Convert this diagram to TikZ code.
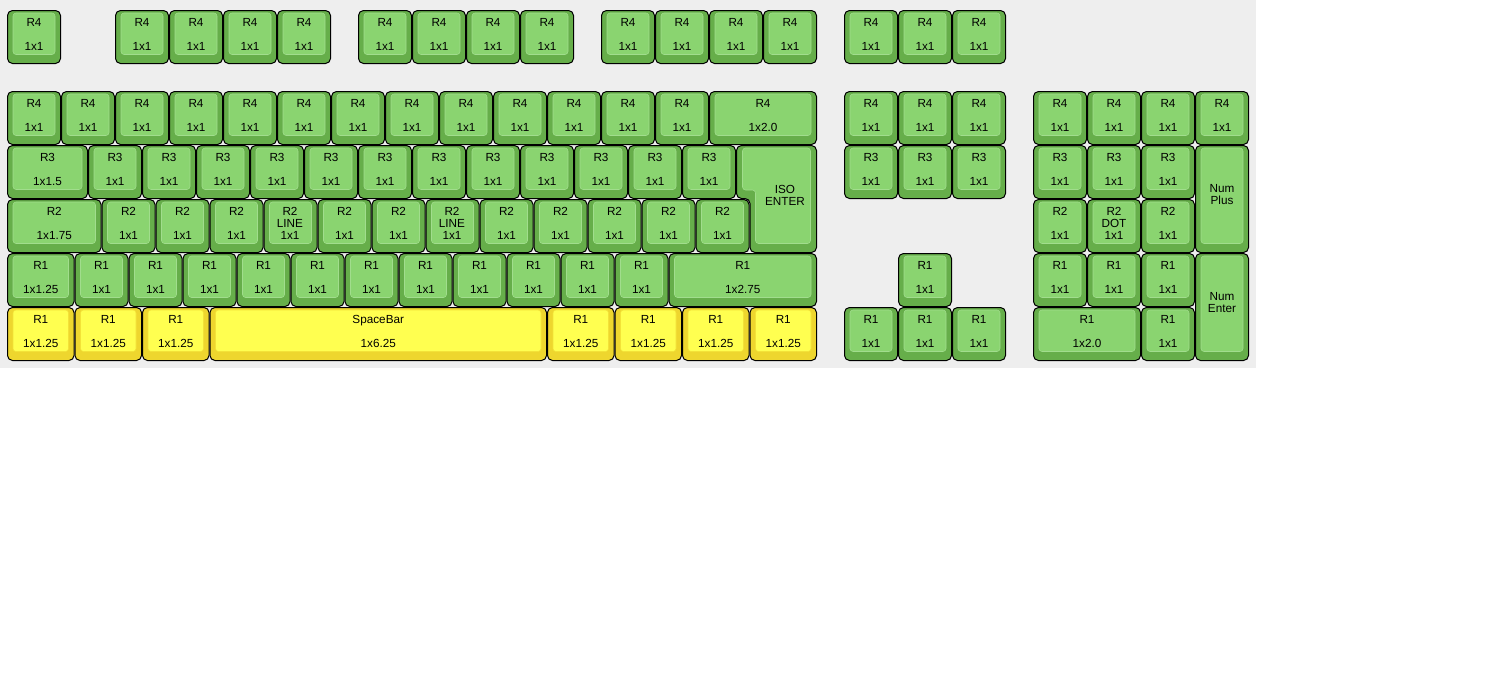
\documentclass[tikz,border=0pt]{standalone}
\usepackage{fontspec}
\setmainfont{Liberation Sans}
\usepackage{xcolor}
\usepackage{tikz}
\usetikzlibrary{positioning}
\definecolor{rimgreen}{RGB}{102,174,74}
\definecolor{capgreen}{RGB}{138,212,112}
\definecolor{rimyellow}{RGB}{238,214,46}
\definecolor{capyellow}{RGB}{255,255,80}
\definecolor{deskgray}{RGB}{238,238,238}
% key body: [colour] column, row, width, height (in key units)
\newcommand{\kbody}[5][g]{%
  \draw[rim#1] ({7.5+54*#2},{10.5+54*#3}) rectangle ({6.5+54*(#2+#4)},{9.5+54*(#3+#5)});
  \filldraw[cap#1] ({13+54*#2},{13+54*#3}) rectangle ({1+54*(#2+#4)},{0.5+54*(#3+#5)});}
% key with two legends: [colour] name, column, row, width, top, bottom
\newcommand{\kcap}[7][g]{\kbody[#1]{#3}{#4}{#5}{1}
  \node[legend] (#2) at ({7+54*(#3+#5/2)},{22+54*#4}) {#6};
  \node[legend] (#2-size) at ({7+54*(#3+#5/2)},{46+54*#4}) {#7};}

\begin{document}
\begin{tikzpicture}[x=0.75pt,y=-0.75pt,
  rimg/.style={draw=black,line width=0.75pt,rounded corners=3.75pt,fill=rimgreen},
  capg/.style={rounded corners=2.25pt,fill=capgreen,draw=capgreen!80!white,line width=0.4pt},
  rimy/.style={draw=black,line width=0.75pt,rounded corners=3.75pt,fill=rimyellow},
  capy/.style={rounded corners=2.25pt,fill=capyellow,draw=rimyellow!70!capyellow,line width=0.4pt},
  legend/.style={font=\fontsize{8.8}{9}\selectfont,inner sep=0pt,text height=6.3pt,text depth=0pt},
  legend lines/.style={font=\fontsize{8.8}{9}\selectfont,inner sep=0pt,align=center}]
\useasboundingbox (0,0) rectangle (1499,690);
\fill[white] (0,0) rectangle (1499,690);
\fill[deskgray] (0,0) rectangle (1256,368);
% function row
\kcap{esc}{0}{0}{1}{R4}{1x1}
\foreach \c [count=\i] in {2,3,4,5,6.5,7.5,8.5,9.5,11,12,13,14,15.5,16.5,17.5}
  {\kcap{fn\i}{\c}{0}{1}{R4}{1x1}}
% number row
\foreach \c [count=\i] in {0,...,12,15.5,16.5,17.5,19,20,21,22}
  {\kcap{num\i}{\c}{1.5}{1}{R4}{1x1}}
\kcap{bksp}{13}{1.5}{2}{R4}{1x2.0}
% top letter row
\kcap{tab}{0}{2.5}{1.5}{R3}{1x1.5}
\foreach \c [count=\i] in {1.5,2.5,...,12.5,15.5,16.5,17.5,19,20,21}
  {\kcap{top\i}{\c}{2.5}{1}{R3}{1x1}}
\draw[rimg] (736.5,145.5) -- (816.5,145.5) -- (816.5,252.5) -- (750,252.5)
  -- (750,198.5) -- (736.5,198.5) -- cycle;
\filldraw[capg] (742.5,148) -- (810.5,148) -- (810.5,243.5) -- (755.5,243.5)
  -- (755.5,190) -- (742.5,190) -- cycle;
\node[legend lines] (isoenter) at (785,195) {ISO\\ENTER};
\kbody{22}{2.5}{1}{2}
\node[legend lines] (numplus) at (1222,195) {Num\\Plus};
% home row
\kcap{caps}{0}{3.5}{1.75}{R2}{1x1.75}
\foreach \c [count=\i] in {1.75,2.75,3.75,5.75,6.75,8.75,9.75,10.75,11.75,12.75,19,21}
  {\kcap{home\i}{\c}{3.5}{1}{R2}{1x1}}
\kbody{4.75}{3.5}{1}{1}
\node[legend lines] (lineleft) at (290,223) {R2\\LINE\\1x1};
\kbody{7.75}{3.5}{1}{1}
\node[legend lines] (lineright) at (452,223) {R2\\LINE\\1x1};
\kbody{20}{3.5}{1}{1}
\node[legend lines] (dot) at (1114,223) {R2\\DOT\\1x1};
% bottom letter row
\kcap{lshift}{0}{4.5}{1.25}{R1}{1x1.25}
\foreach \c [count=\i] in {1.25,2.25,...,11.25,16.5,19,20,21}
  {\kcap{low\i}{\c}{4.5}{1}{R1}{1x1}}
\kcap{rshift}{12.25}{4.5}{2.75}{R1}{1x2.75}
\kbody{22}{4.5}{1}{2}
\node[legend lines] (numenter) at (1222,303) {Num\\Enter};
% space row
\foreach \c [count=\i] in {0,1.25,2.5,10,11.25,12.5,13.75}
  {\kcap[y]{mod\i}{\c}{5.5}{1.25}{R1}{1x1.25}}
\kcap[y]{space}{3.75}{5.5}{6.25}{SpaceBar}{1x6.25}
\foreach \c [count=\i] in {15.5,16.5,17.5,21}
  {\kcap{arrow\i}{\c}{5.5}{1}{R1}{1x1}}
\kcap{padzero}{19}{5.5}{2}{R1}{1x2.0}
\end{tikzpicture}
\end{document}
